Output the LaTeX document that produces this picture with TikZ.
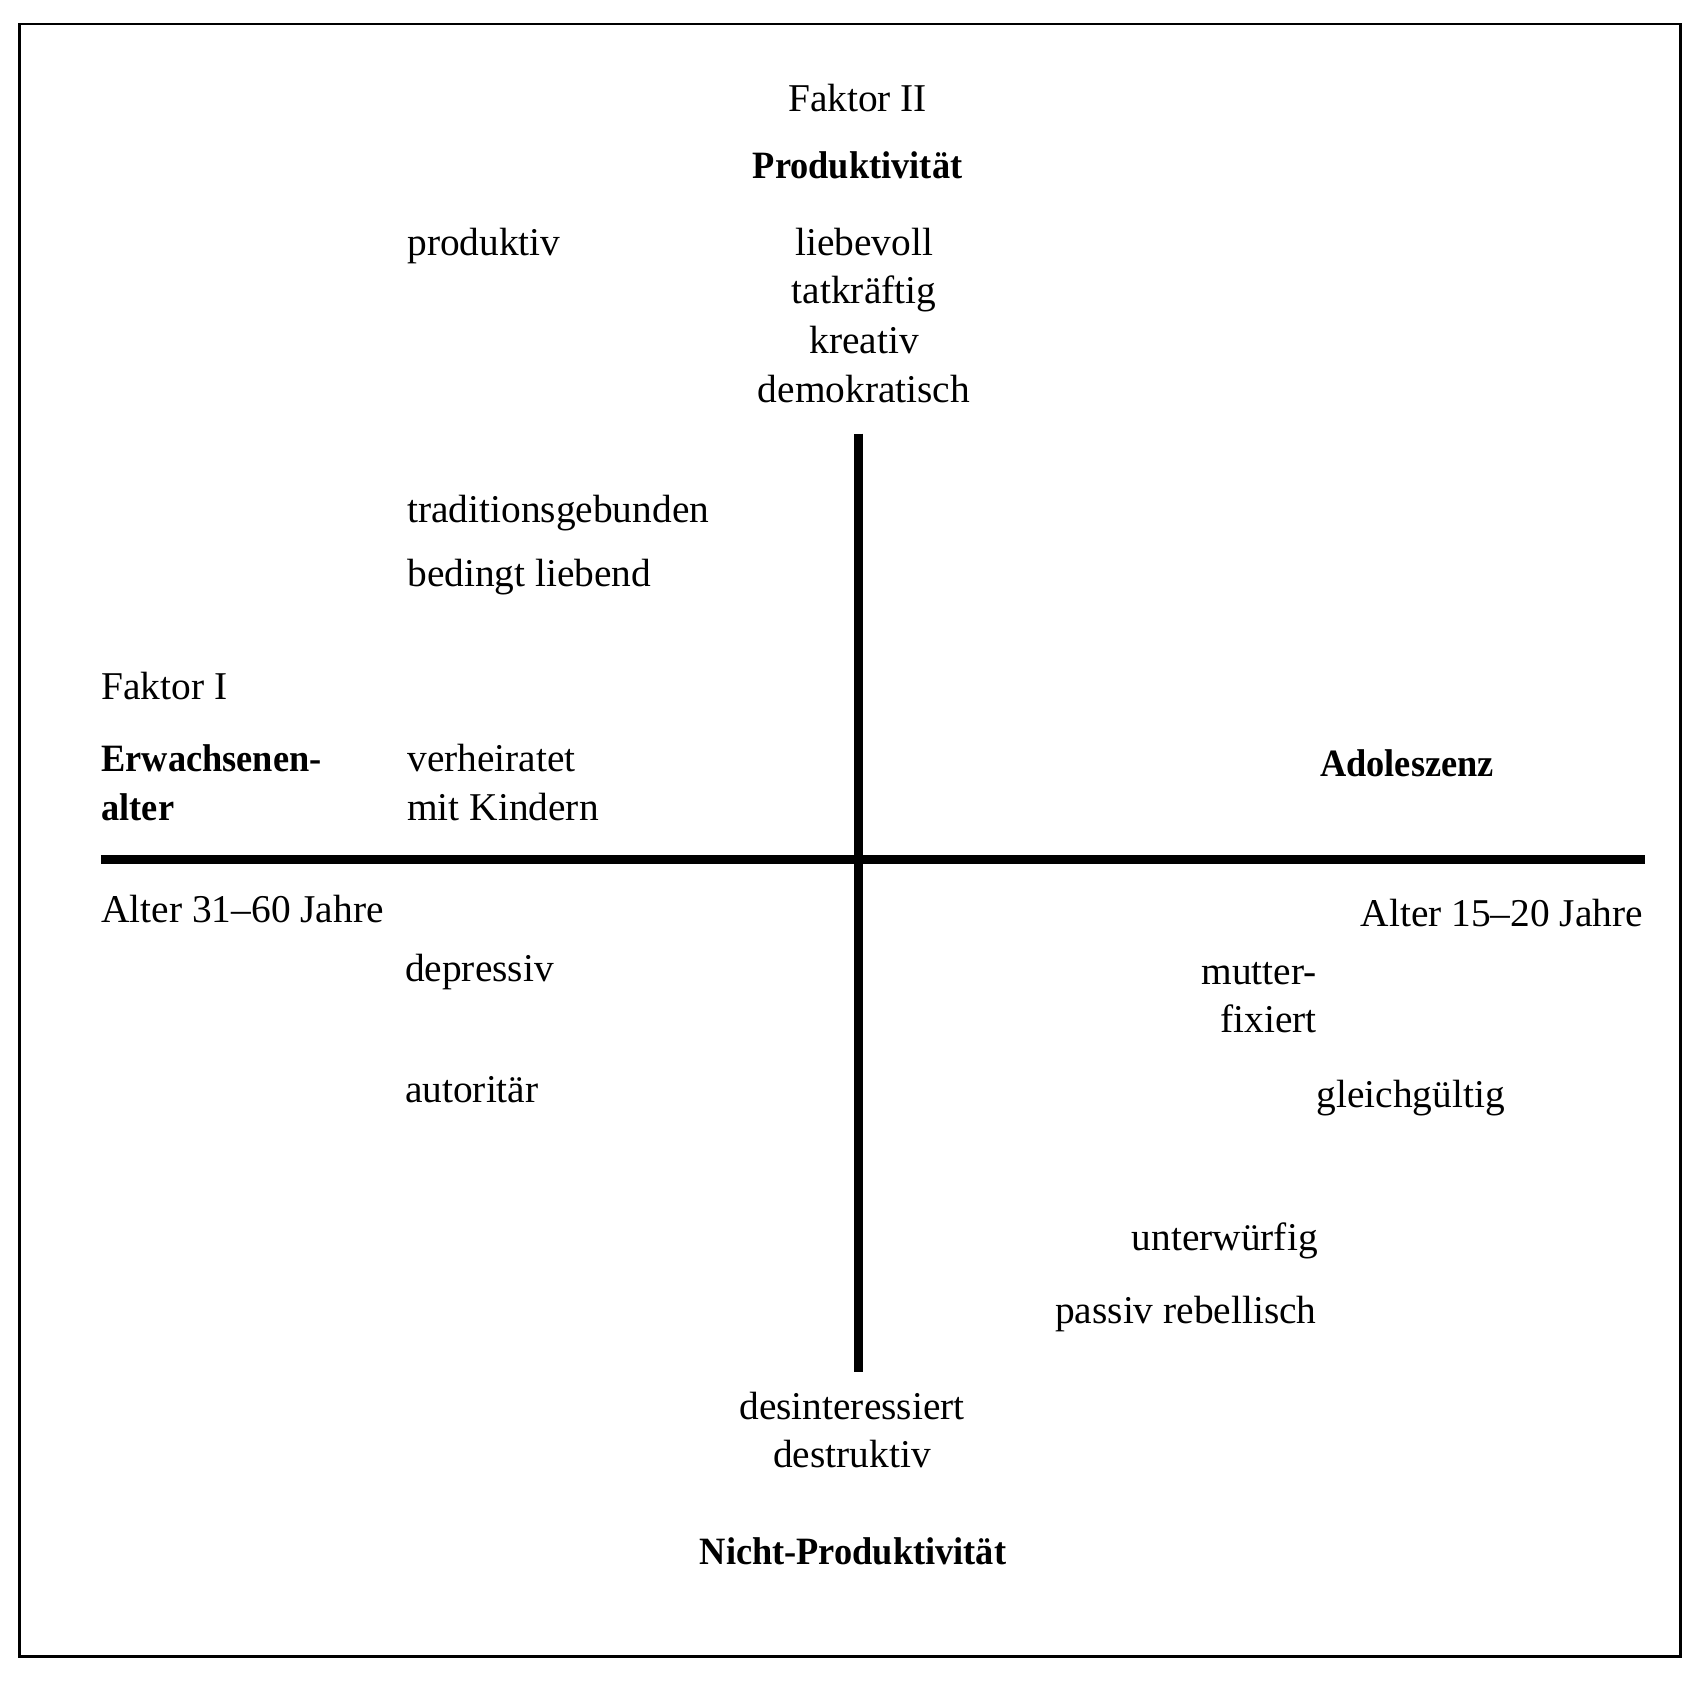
\documentclass[tikz,border=0pt]{standalone}
\usepackage{fontspec}
\setmainfont{Liberation Serif}
\newfontfamily\schmalfett[FakeStretch=0.94]{Liberation Serif}
\usepackage{tikz}
\usetikzlibrary{positioning}

\begin{document}
\begin{tikzpicture}[
  x=0.01cm, y=-0.01cm,
  wort/.style={inner sep=0pt, font=\fontsize{11.2}{13.5}\selectfont},
  fett/.style={inner sep=0pt, font=\fontsize{11}{13.5}\schmalfett\bfseries},
  achse/.style={line width=2.5pt},
  rahmen/.style={line width=0.7pt}
]
\useasboundingbox (0,0) rectangle (1700,1688);
\draw[rahmen] (19.5,24) rectangle (1680.5,1656.5);

% Achsen
\coordinate (oben)   at (858.7,433.7);
\coordinate (unten)  at (858.7,1371.5);
\coordinate (links)  at (100.8,859.8);
\coordinate (rechts) at (1644.7,859.8);
\draw[achse] (oben) -- (unten);
\draw[achse] (links) -- (rechts);

% Faktor II, oben
\node[wort, anchor=base] (f2)   at (857.6,111.7) {Faktor II};
\node[fett, anchor=base] (prod) at (857.6,178.9) {Produktivität};
\node[wort, anchor=base west] (produktiv) at (406.6,255) {produktiv};
\foreach \w [count=\i] in {liebevoll, tatkräftig, kreativ, demokratisch}
  \node[wort, anchor=base] (lieb\i) at ({864},{255+49*(\i-1)}) {\w};
\node[wort, anchor=base west] (trad)  at (406.6,522.6) {traditionsgebunden};
\node[wort, anchor=base west] (bed)   at (406.6,586.6) {bedingt liebend};

% Faktor I, links und rechts
\node[wort, anchor=base west] (f1)    at (100.8,699) {Faktor I};
\node[fett, anchor=base west] (erw1)  at (100.8,771) {Erwachsenen-};
\node[fett, anchor=base west] (erw2)  at (100.8,820) {alter};
\node[wort, anchor=base west] (verh1) at (406.6,771) {verheiratet};
\node[wort, anchor=base west] (verh2) at (406.6,820.5) {mit Kindern};
\node[fett, anchor=base] (adol)       at (1407,776) {Adoleszenz};
\node[wort, anchor=base west] (alt1)  at (100.8,922.6) {Alter 31--60 Jahre};
\node[wort, anchor=base east] (alt2)  at (1643.6,926) {Alter 15--20 Jahre};

% unten links
\node[wort, anchor=base west] (depr)  at (404.4,981.2) {depressiv};
\node[wort, anchor=base west] (auto)  at (404.4,1102.6) {autoritär};

% unten rechts
\node[wort, anchor=base east] (mut1)  at (1317.3,984.4) {mutter-};
\node[wort, anchor=base east] (mut2)  at (1317.3,1032) {fixiert};
\node[wort, anchor=base west] (gleich) at (1316,1107) {gleichgültig};
\node[wort, anchor=base east] (unter) at (1318.4,1250) {unterwürfig};
\node[wort, anchor=base east] (passiv) at (1317.3,1323.8) {passiv rebellisch};

% Nicht-Produktivitaet
\node[wort, anchor=base] (desi)  at (852,1419) {desinteressiert};
\node[wort, anchor=base] (destr) at (852,1467) {destruktiv};
\node[fett, anchor=base] (nprod) at (853,1564.5) {Nicht-Produktivität};
\end{tikzpicture}
\end{document}
